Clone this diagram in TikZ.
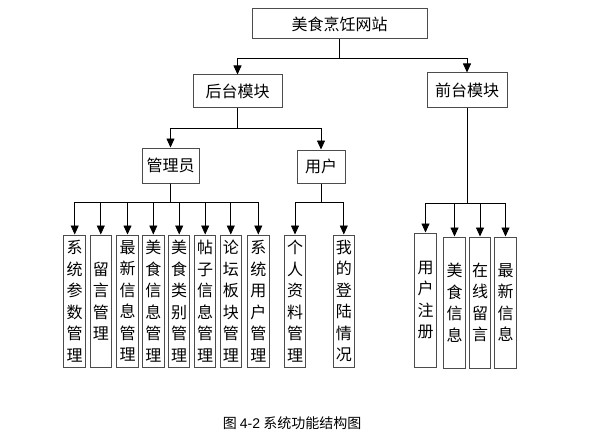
\documentclass[tikz,border=0pt]{standalone}
\usepackage{fontspec}
\setmainfont{Noto Sans CJK SC}
\newfontfamily\latinfont{Liberation Sans}
\usetikzlibrary{arrows.meta}
\begin{document}
\begin{tikzpicture}[x=1pt,y=-1pt,
  box/.style={draw=black!70,line width=1pt,inner sep=0pt,align=center,font=\fontsize{16pt}{21.5pt}\selectfont},
  col/.style={box,minimum width=21.5pt,minimum height=132pt},
  arr/.style={line width=0.8pt,-{Triangle[width=8pt,length=9pt]}}]
  \useasboundingbox (0,0) rectangle (615,433);
  \path (339.5,24) node[box,minimum width=175pt,minimum height=30pt] (site) {美食烹饪网站}
  (237.5,91.5) node[box,minimum width=89pt,minimum height=33pt] (back) {后台模块}
  (467,90.5) node[box,minimum width=80pt,minimum height=35pt] (front) {前台模块}
  (170.5,165.5) node[box,minimum width=57pt,minimum height=35pt] (admin) {管理员}
  (321,166.5) node[box,minimum width=48pt,minimum height=33pt] (user) {用户};
  \path (74.7,301) node[col] (a1) {系\\统\\参\\数\\管\\理}
  (100.8,301) node[col] (a2) {留\\言\\管\\理}
  (127.5,301) node[col] (a3) {最\\新\\信\\息\\管\\理}
  (153.3,301) node[col] (a4) {美\\食\\信\\息\\管\\理}
  (179.2,301) node[col] (a5) {美\\食\\类\\别\\管\\理}
  (205.2,301) node[col] (a6) {帖\\子\\信\\息\\管\\理}
  (230.8,301) node[col] (a7) {论\\坛\\板\\块\\管\\理}
  (258.3,301) node[col] (a8) {系\\统\\用\\户\\管\\理};
  \path (295,301) node[col] (u1) {个\\人\\资\\料\\管\\理}
  (343.8,301) node[col] (u2) {我\\的\\登\\陆\\情\\况};
  \path (425.5,300) node[col,minimum height=134pt] (f1) {用\\户\\注\\册}
  (454.5,302.5) node[col,minimum height=131pt] (f2) {美\\食\\信\\息}
  (480,302.5) node[col,minimum height=131pt] (f3) {在\\线\\留\\言}
  (505.5,302.5) node[col,minimum height=131pt] (f4) {最\\新\\信\\息};
  \draw[arr] (site.south) -- ++(0,19) -| (back.north);
  \draw[arr] (site.south) -- ++(0,19) -| (front.north);
  \draw[arr] (back.south) -- ++(0,20) -| (admin.north);
  \draw[arr] (back.south) -- ++(0,20) -| (user.north);
  \foreach \c in {a1,a2,a3,a4,a5,a6,a7,a8}
    \draw[arr] (admin.south) -- ++(0,19) -| (\c.north);
  \foreach \c in {u1,u2}
    \draw[arr] (user.south) -- ++(0,19) -| (\c.north);
  \foreach \c in {f1,f2,f3,f4}
    \draw[arr] (front.south) -- ++(0,95) -| (\c.north);
  \node[font=\fontsize{14pt}{16pt}\selectfont] (cap) at (292,422.7) {图 {\latinfont 4-2} 系统功能结构图};
\end{tikzpicture}
\end{document}
